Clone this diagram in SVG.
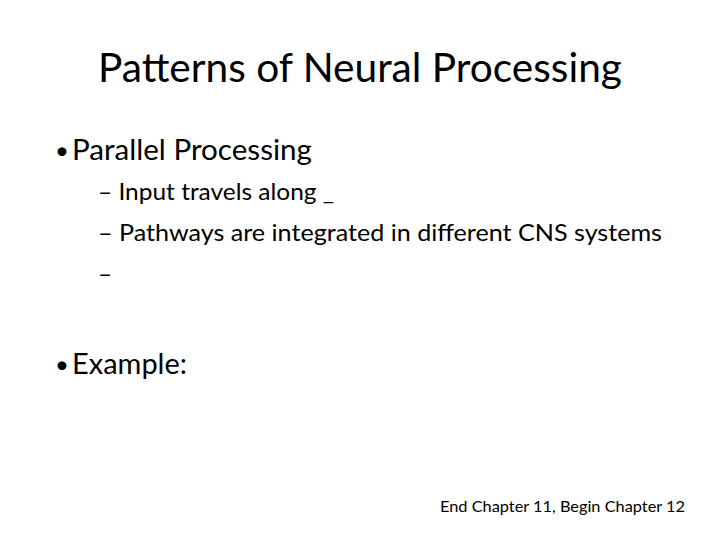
<svg xmlns="http://www.w3.org/2000/svg" width="720" height="540" viewBox="0 0 720 540">
<style>
text{font-family:"Lato","Open Sans","Liberation Sans",sans-serif;fill:#000}
.t{font-size:40px}
.l1{font-size:28px}
.b{font-size:24px}
.l2{font-size:24px}
.f{font-size:15px}
</style>
<rect width="720" height="540" fill="#fff"/>
<g id="title"><text class="t" x="98" y="82" textLength="524" lengthAdjust="spacingAndGlyphs">Patterns of Neural Processing</text></g>
<g id="bullet1">
<text class="b" x="55" y="159">•</text>
<text class="l1" x="72" y="160" textLength="240" lengthAdjust="spacingAndGlyphs">Parallel Processing</text>
</g>
<g id="sub1"><text class="l2" x="98" y="200" textLength="236" lengthAdjust="spacingAndGlyphs">– Input travels along _</text></g>
<g id="sub2"><text class="l2" x="98" y="241" textLength="564" lengthAdjust="spacingAndGlyphs">– Pathways are integrated in different CNS systems</text></g>
<g id="sub3"><text class="l2" x="98" y="282" textLength="14" lengthAdjust="spacingAndGlyphs">–</text></g>
<g id="bullet2">
<text class="b" x="55" y="373">•</text>
<text class="l1" x="72" y="374" textLength="115" lengthAdjust="spacingAndGlyphs">Example:</text>
</g>
<g id="footer"><text class="f" x="440" y="512" textLength="245" lengthAdjust="spacingAndGlyphs">End Chapter 11, Begin Chapter 12</text></g>
</svg>
